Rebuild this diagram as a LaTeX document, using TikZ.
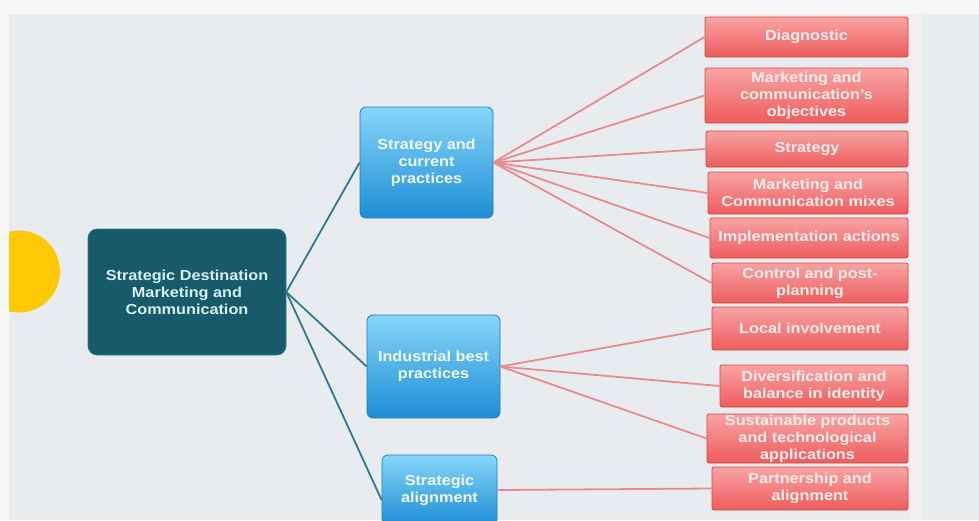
\documentclass[tikz,border=0pt]{standalone}
\usepackage{fontspec}
\setmainfont{Liberation Sans}[FakeStretch=1.12]
\definecolor{panel}{HTML}{E9ECEF}
\definecolor{outer}{HTML}{F6F6F6}
\definecolor{band}{HTML}{F3EFF1}
\definecolor{redtop}{HTML}{F9A3A3}
\definecolor{redbot}{HTML}{EE5C5C}
\definecolor{rededge}{HTML}{D04848}
\definecolor{redtext}{HTML}{FDEDED}
\definecolor{redline}{HTML}{E88A8E}
\definecolor{bluetop}{HTML}{86D6F8}
\definecolor{bluebot}{HTML}{1E8ED6}
\definecolor{blueedge}{HTML}{1C7DBE}
\definecolor{bluetext}{HTML}{F0F9FE}
\definecolor{rootfill}{HTML}{175B6B}
\definecolor{rootedge}{HTML}{2A8096}
\definecolor{roottext}{HTML}{D4F0F4}
\definecolor{tealline}{HTML}{2E7A8C}
\definecolor{sun}{HTML}{FFC805}
\tikzset{
  lbl/.style={font=\bfseries\fontsize{14.5}{17}\selectfont, align=center, inner sep=0pt},
  redbox/.style={lbl, rounded corners=2pt, top color=redtop, bottom color=redbot,
    draw=rededge, line width=0.8pt, text=redtext},
  bluebox/.style={lbl, rounded corners=6pt, top color=bluetop, bottom color=bluebot,
    draw=blueedge, line width=0.8pt, text=bluetext},
  rootbox/.style={lbl, rounded corners=9pt, fill=rootfill, draw=rootedge, line width=0.6pt, text=roottext},
  redconn/.style={draw=redline, line width=1.8pt},
  tealconn/.style={draw=tealline, line width=1.8pt},
}
\begin{document}
\begin{tikzpicture}[x=1pt,y=-1pt]
\clip (0,0) rectangle (979,520);
\fill[outer] (0,0) rectangle (979,520);
\fill[panel] (9,14) rectangle (979,520);
\fill[band] (910,14) rectangle (923,520);
% yellow half disc
\begin{scope}
\clip (9,14) rectangle (979,520);
\fill[sun] (19,271.5) circle[radius=41];
\end{scope}
% root
\node[rootbox, minimum width=198pt, minimum height=126pt] (root) at (187,292)
  {Strategic Destination\\Marketing and\\Communication};
% blue boxes
\node[bluebox, minimum width=133pt, minimum height=111pt] (b1) at (426.5,162.5)
  {Strategy and\\current\\practices};
\node[bluebox, minimum width=133pt, minimum height=103pt] (b2) at (433.5,366.5)
  {Industrial best\\practices};
\node[bluebox, minimum width=115pt, minimum height=70pt] (b3) at (439.5,490)
  {Strategic\\alignment};
% red boxes
\node[redbox, minimum width=203pt, minimum height=40pt] (d1) at (806.5,37) {Diagnostic};
\node[redbox, minimum width=203pt, minimum height=55pt] (d2) at (806.5,95.5)
  {Marketing and\\communication's\\objectives};
\node[redbox, minimum width=202pt, minimum height=36pt] (d3) at (807,149) {Strategy};
\node[redbox, minimum width=200pt, minimum height=42pt] (d4) at (808,193)
  {Marketing and\\Communication mixes};
\node[redbox, minimum width=198pt, minimum height=40pt] (d5) at (809,238)
  {Implementation actions};
\node[redbox, minimum width=196pt, minimum height=40pt] (d6) at (810,283)
  {Control and post-\\planning};
\node[redbox, minimum width=196pt, minimum height=43pt] (d7) at (810,328.5)
  {Local involvement};
\node[redbox, minimum width=188pt, minimum height=42pt] (d8) at (814,386)
  {Diversification and\\balance in identity};
\node[redbox, minimum width=201pt, minimum height=49pt] (d9) at (807.5,438.5)
  {Sustainable products\\and technological\\applications};
\node[redbox, minimum width=196pt, minimum height=43pt] (d10) at (810,488.5)
  {Partnership and\\alignment};
% connectors
\draw[tealconn] (root.east) -- (b1.west);
\draw[tealconn] (root.east) -- (b2.west);
\draw[tealconn] (root.east) -- ([yshift=-10pt]b3.west);
\foreach \t in {d1,d2,d3,d4,d5,d6}
  \draw[redconn] (b1.east) -- (\t.west);
\foreach \t in {d7,d8,d9}
  \draw[redconn] (b2.east) -- (\t.west);
\draw[redconn] (b3.east) -- (d10.west);
\end{tikzpicture}
\end{document}
